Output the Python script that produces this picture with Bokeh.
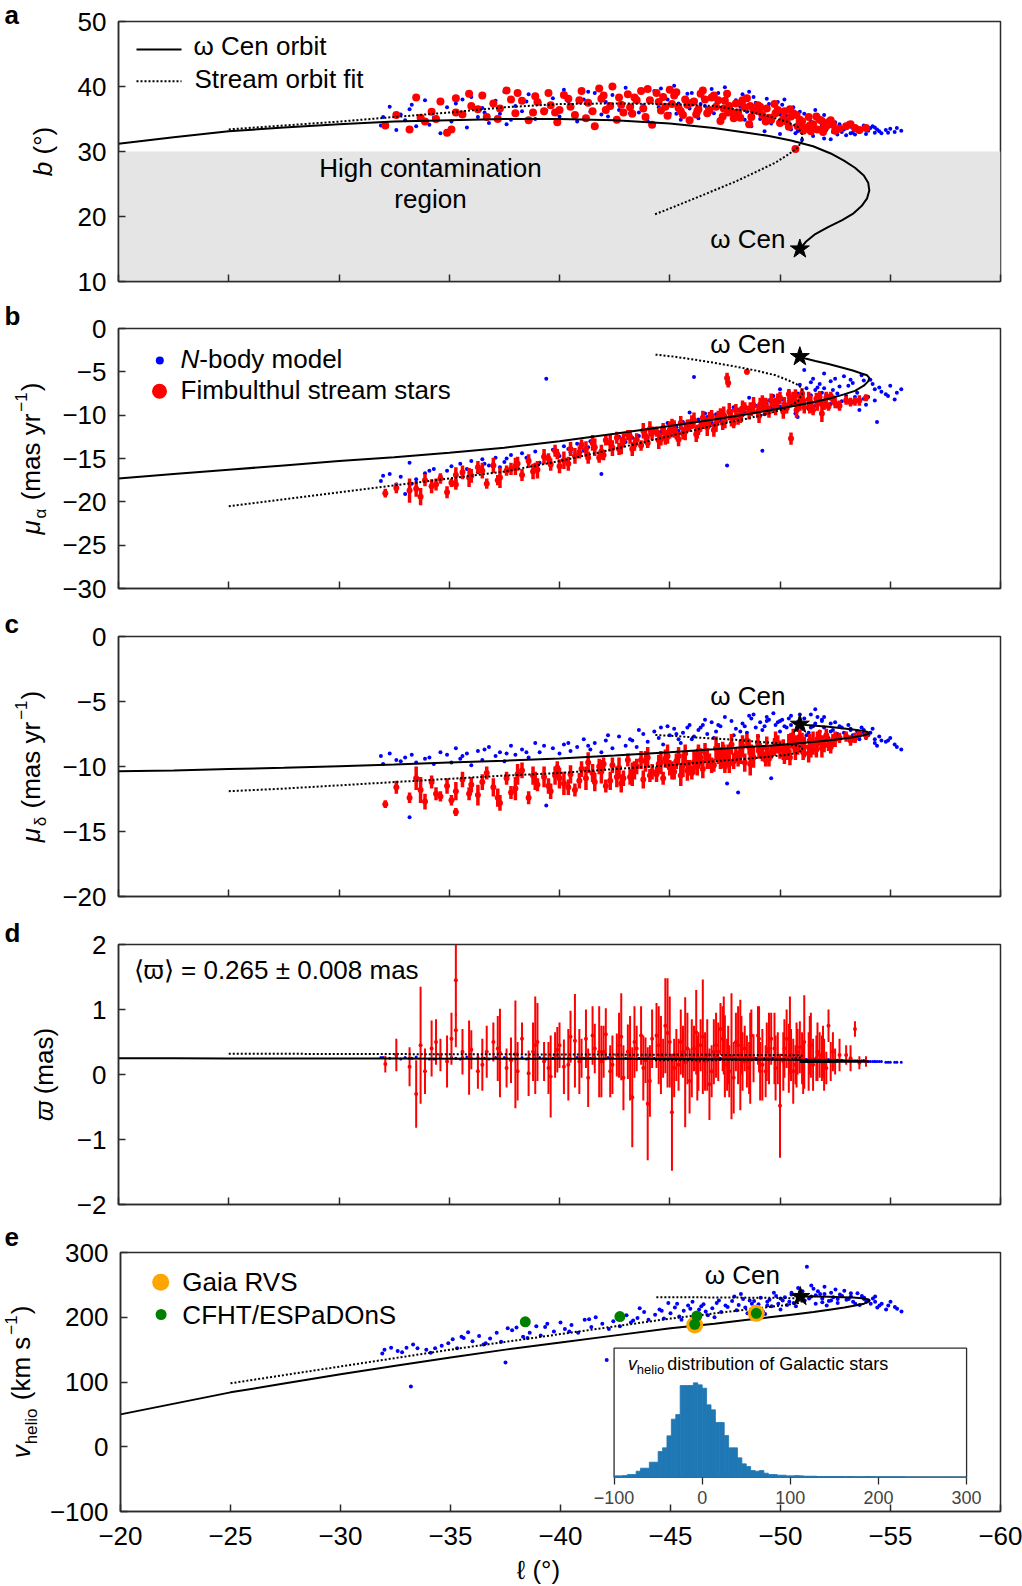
import math
import numpy as np
from bokeh.plotting import figure
from bokeh.models import Range1d, LinearAxis, FixedTicker, Label, BoxAnnotation, ColumnDataSource
from bokeh.layouts import column, row
from bokeh.embed import file_html
from bokeh.resources import INLINE

# ---------------------------------------------------------------- data
x_ticks = [-20, -25, -30, -35, -40, -45, -50, -55, -60]
x_tick_labels = ["\u221220", "\u221225", "\u221230", "\u221235", "\u221240", "\u221245", "\u221250", "\u221255", "\u221260"]
b_ticks = [10, 20, 30, 40, 50]
b_tick_labels = ["10", "20", "30", "40", "50"]
pmra_ticks = [0, -5, -10, -15, -20, -25, -30]
pmra_tick_labels = ["0", "\u22125", "\u221210", "\u221215", "\u221220", "\u221225", "\u221230"]
pmdec_ticks = [0, -5, -10, -15, -20]
pmdec_tick_labels = ["0", "\u22125", "\u221210", "\u221215", "\u221220"]
plx_ticks = [2, 1, 0, -1, -2]
plx_tick_labels = ["2", "1", "0", "\u22121", "\u22122"]
v_ticks = [300, 200, 100, 0, -100]
v_tick_labels = ["300", "200", "100", "0", "\u2212100"]
inset_ticks = [-100, 0, 100, 200, 300]
inset_tick_labels = ["\u2212100", "0", "100", "200", "300"]

# omega Cen orbit (solid line), sampled along the orbit
orbit_l = [-20, -22.5, -25, -27.5, -30, -32.5, -35, -37.5, -40, -42.5, -45, -47, -48.5, -49.5, -50.5,
           -51.5, -52.3, -52.9, -53.4, -53.8, -54.0, -54.05, -53.95, -53.7, -53.3, -52.8, -52.2, -51.6, -51.2, -50.9]
orbit_b = [31.2, 32.2, 33.1, 33.7, 34.2, 34.6, 34.8, 35.0, 35.0, 34.8, 34.3, 33.6, 32.9, 32.4, 31.7,
           30.8, 29.7, 28.6, 27.5, 26.3, 25.2, 24.0, 22.8, 21.6, 20.4, 19.4, 18.4, 17.3, 16.2, 15.0]
orbit_pmra = [-17.3, -16.8, -16.3, -15.8, -15.3, -14.85, -14.35, -13.75, -13.0, -12.15, -11.25, -10.5, -9.9, -9.45, -9.0,
              -8.5, -8.05, -7.6, -7.2, -6.6, -6.1, -5.7, -5.4, -5.2, -4.85, -4.5, -4.1, -3.75, -3.5, -3.25]
orbit_pmdec = [-10.37, -10.3, -10.2, -10.1, -9.98, -9.85, -9.7, -9.55, -9.38, -9.15, -8.9, -8.68, -8.5, -8.4, -8.27,
               -8.12, -7.98, -7.85, -7.73, -7.6, -7.5, -7.42, -7.33, -7.24, -7.15, -7.05, -6.95, -6.86, -6.8, -6.75]
orbit_plx = [0.250, 0.249, 0.248, 0.247, 0.246, 0.245, 0.244, 0.243, 0.242, 0.241, 0.239, 0.236, 0.232, 0.229, 0.225,
             0.221, 0.217, 0.213, 0.209, 0.205, 0.202, 0.200, 0.199, 0.197, 0.196, 0.195, 0.194, 0.193, 0.192, 0.191]
orbit_v = [50, 67, 84, 98, 112, 125, 138, 150, 161, 172, 183, 190, 196, 200, 204,
           208, 212, 215, 218, 221, 224, 226, 228, 229.5, 230.5, 231, 231.5, 232, 232, 232]

# stream orbit fit (dotted line)
fit_l = [-25, -27.5, -30, -32.5, -35, -37.5, -40, -42.5, -45, -47, -48.5, -49.5, -50.3, -50.8, -51.0,
         -51.0, -50.8, -50.4, -49.8, -49.0, -48.0, -47.0, -46.0, -45.2, -44.3]
fit_b = [33.4, 34.0, 34.6, 35.3, 36.0, 36.8, 37.3, 37.4, 37.3, 37.0, 36.2, 35.4, 34.6, 33.8, 32.6,
         31.6, 30.6, 29.6, 28.3, 27.0, 25.4, 24.0, 22.6, 21.5, 20.3]
fit_pmra = [-20.5, -19.7, -18.9, -18.1, -17.3, -16.5, -15.3, -13.9, -12.4, -11.2, -10.4, -9.8, -9.2, -8.4, -7.6,
            -6.9, -6.5, -6.0, -5.4, -4.9, -4.4, -3.95, -3.55, -3.25, -3.0]
fit_pmdec = [-11.9, -11.7, -11.45, -11.2, -10.95, -10.7, -10.5, -10.2, -9.9, -9.6, -9.4, -9.25, -9.1, -8.95, -8.75,
             -8.5, -8.4, -8.3, -8.2, -8.1, -7.95, -7.85, -7.75, -7.65, -7.57]
fit_plx = [0.32, 0.318, 0.316, 0.314, 0.312, 0.31, 0.308, 0.306, 0.304, 0.302, 0.3, 0.299, 0.298, 0.296, 0.29,
           0.27, 0.25, 0.235, 0.228, 0.224, 0.222, 0.221, 0.22, 0.22, 0.22]
fit_v = [98, 111, 124, 137, 150, 162, 174, 186, 198, 206, 212, 216, 219, 222, 225,
         227.5, 229, 229.5, 230, 230, 230.5, 230.5, 231, 231, 231]

# omega Cen itself
omega_l = [-50.9]
omega_b = [15.0]
omega_pmra = [-3.25]
omega_pmdec = [-6.75]
omega_v = [232]

# Fimbulthul stream stars (red)
red_l = [-32.1, -32.6, -33.2, -33.5, -33.7, -33.9, -34.2, -34.6, -34.9, -35.1,
         -35.3, -35.3, -35.6, -35.9, -36.3, -36.7, -37.0, -37.3, -37.6, -38.0,
         -38.3, -38.6, -38.9, -39.3, -39.6, -39.9, -40.2, -40.5, -40.7, -41.0,
         -41.3, -41.6, -41.9, -42.1, -42.4, -42.6, -42.8, -43.1, -43.3, -43.5,
         -43.8, -44.0, -44.2, -44.5, -44.7, -44.9, -45.1, -45.3, -45.5, -45.7,
         -45.9, -46.1, -46.3, -46.5, -46.7, -46.9, -47.1, -47.3, -47.5, -47.6,
         -47.8, -48.0, -48.2, -48.4, -48.5, -48.6, -48.8, -49.0, -49.2, -49.4,
         -49.6, -49.8, -50.0, -50.2, -50.4, -50.5, -50.7, -50.9, -51.1, -51.3,
         -51.5, -51.7, -51.9, -52.1, -52.2, -52.5, -53.0, -53.4, -53.6, -53.9,
         -36.0, -37.8, -38.8, -39.5, -40.0, -40.9, -41.5, -42.0, -42.9, -43.4,
         -43.9, -44.4, -44.8, -45.2, -45.6, -46.0, -46.4, -46.8, -47.2, -47.4,
         -47.7, -48.1, -48.3, -48.7, -49.1, -49.5, -49.9, -50.3, -50.6, -50.8,
         -51.0, -51.4, -51.8, -52.0, -52.4,
         -34.4, -36.5, -37.2, -38.1, -39.0, -39.8, -40.4, -41.2, -41.8, -42.3,
         -42.7, -43.2, -43.7, -44.1, -44.6, -45.0, -45.4, -45.8, -46.2, -46.6,
         -47.0, -47.45, -47.9, -48.25, -48.65, -49.05, -49.35, -49.75, -50.15, -50.45,
         -50.75, -51.05, -51.35, -51.65, -51.95, -52.3, -52.7, -53.2, -47.65, -46.25]
red_b = [34.0, 35.6, 33.4, 38.3, 35.2, 34.6, 36.1, 37.7, 32.9, 33.4,
         38.2, 36.0, 35.7, 38.9, 36.5, 35.3, 37.4, 36.6, 39.4, 35.9,
         37.8, 34.8, 38.5, 36.2, 37.1, 34.5, 38.7, 36.9, 35.6, 39.3,
         37.5, 33.9, 38.1, 36.4, 40.0, 34.9, 37.2, 38.8, 35.8, 37.9,
         36.6, 39.6, 34.1, 37.6, 38.4, 35.5, 37.3, 39.1, 36.2, 38.0,
         34.8, 37.7, 36.5, 39.4, 35.9, 38.3, 36.9, 34.7, 37.8, 38.9,
         36.1, 37.4, 35.2, 36.8, 38.2, 34.2, 36.3, 37.1, 35.6, 36.6,
         34.9, 35.9, 34.4, 36.2, 33.8, 35.4, 30.4, 34.9, 33.6, 35.3,
         34.2, 33.4, 34.7, 33.9, 34.5, 33.2, 33.9, 33.6, 33.3, 33.6,
         37.0, 38.0, 36.0, 39.0, 36.4, 37.9, 36.2, 38.6, 36.0, 38.3,
         35.3, 39.0, 36.9, 38.6, 35.6, 37.5, 38.9, 36.4, 37.9, 35.4,
         37.0, 36.0, 37.9, 35.3, 36.9, 35.2, 36.4, 34.6, 35.9, 33.9,
         34.6, 33.1, 34.9, 33.6, 34.1,
         35.0, 38.6, 35.0, 39.0, 37.6, 36.0, 38.1, 35.1, 39.7, 37.0,
         38.3, 36.8, 39.3, 37.9, 36.3, 39.5, 36.7, 37.2, 35.7, 38.0,
         38.6, 36.6, 35.1, 37.5, 37.0, 36.2, 34.6, 37.3, 35.0, 36.5,
         35.6, 33.2, 34.0, 35.4, 33.0, 34.8, 33.5, 34.2, 36.0, 36.2]
red_pmra = [-19.0, -18.4, -18.7, -18.5, -19.4, -17.5, -18.2, -17.3, -18.9, -17.8,
            -16.9, -18.0, -16.6, -17.2, -16.0, -17.9, -15.8, -17.2, -16.4, -15.9,
            -16.9, -15.3, -16.0, -14.8, -15.7, -14.5, -15.2, -13.9, -14.7, -13.4,
            -14.9, -13.7, -14.2, -12.9, -13.8, -12.6, -13.5, -12.3, -13.9, -12.8,
            -11.8, -13.2, -12.1, -12.9, -11.6, -12.5, -11.3, -12.2, -10.9, -11.9,
            -11.2, -10.6, -11.7, -10.3, -11.4, -10.1, -11.0, -9.8, -10.7, -5.7,
            -10.3, -9.4, -10.0, -9.1, -5.0, -9.7, -8.9, -9.6, -8.6, -9.3,
            -8.3, -9.0, -8.0, -8.8, -7.6, -12.7, -7.8, -8.5, -9.1, -8.2,
            -9.4, -8.7, -9.8, -8.0, -9.0, -8.6, -8.3, -8.4, -8.3, -8.0,
            -17.0, -16.2, -16.5, -15.0, -15.9, -14.3, -13.2, -14.6, -12.9, -13.4,
            -12.4, -11.9, -12.6, -11.6, -12.1, -10.8, -11.3, -10.5, -10.2, -10.9,
            -9.6, -10.4, -9.2, -9.5, -8.8, -9.6, -8.4, -9.2, -8.1, -8.9,
            -7.5, -8.6, -7.9, -8.8, -8.2,
            -18.0, -16.4, -17.5, -15.6, -16.3, -14.1, -15.6, -13.9, -14.9, -13.2,
            -13.9, -12.5, -13.5, -11.6, -12.8, -11.7, -12.8, -11.1, -12.2, -10.9,
            -11.7, -10.0, -10.9, -9.9, -9.2, -10.1, -9.0, -8.9, -9.6, -8.4,
            -9.4, -8.3, -9.0, -8.1, -8.8, -7.8, -8.9, -8.5, -6.3, -11.9]
red_pmra_err = [0.5, 0.6, 1.4, 0.9, 1.0, 0.7, 0.8, 0.6, 0.7, 0.5,
                0.9, 0.6, 0.8, 1.1, 0.7, 0.6, 0.9, 1.2, 0.6, 1.0,
                0.7, 0.8, 0.5, 0.9, 0.7, 0.6, 1.0, 0.8, 0.9, 0.6,
                0.7, 1.0, 0.8, 0.6, 0.9, 0.7, 1.0, 0.6, 0.8, 0.7,
                0.9, 0.6, 0.8, 1.0, 0.7, 0.8, 0.9, 0.6, 0.8, 1.0,
                0.7, 0.9, 0.6, 0.8, 1.0, 0.7, 0.9, 0.6, 0.8, 0.6,
                1.0, 0.7, 0.9, 0.6, 0.3, 0.8, 1.0, 0.7, 0.9, 0.6,
                0.8, 1.0, 0.7, 0.9, 0.6, 0.7, 0.8, 1.0, 0.7, 0.9,
                0.6, 0.8, 1.0, 0.7, 0.5, 0.6, 0.5, 0.5, 0.6, 0.4,
                0.8, 0.7, 0.9, 0.6, 0.8, 0.7, 0.9, 0.6, 0.8, 0.7,
                0.9, 0.6, 0.8, 1.0, 0.7, 0.8, 0.6, 0.9, 0.7, 0.8,
                1.0, 0.7, 0.9, 0.6, 0.8, 0.7, 0.9, 0.6, 0.8, 0.7,
                0.6, 0.9, 0.7, 0.6, 0.5,
                0.7, 0.9, 0.6, 0.8, 1.0, 0.7, 0.8, 0.9, 0.6, 1.0,
                0.7, 0.8, 0.6, 0.9, 0.7, 1.0, 0.8, 0.6, 0.9, 0.7,
                0.8, 1.0, 0.6, 0.9, 0.7, 0.8, 1.0, 0.6, 0.8, 0.7,
                0.9, 0.6, 0.8, 0.7, 0.6, 0.5, 0.6, 0.5, 0.5, 0.8]
red_pmdec = [-12.9, -11.6, -12.4, -10.9, -11.8, -12.7, -11.2, -12.3, -11.5, -12.6,
             -13.5, -11.9, -11.0, -12.1, -12.2, -10.5, -11.6, -12.8, -10.9, -11.7,
             -10.3, -12.4, -11.1, -10.8, -11.9, -10.1, -11.3, -10.6, -11.8, -10.2,
             -9.7, -11.2, -10.4, -11.5, -9.9, -10.8, -11.3, -9.5, -10.6, -10.0,
             -11.0, -9.3, -10.4, -9.8, -10.9, -9.2, -10.3, -9.6, -10.7, -9.0,
             -10.1, -9.7, -8.8, -10.2, -9.4, -9.9, -8.6, -9.5, -10.0, -9.2,
             -8.3, -9.1, -8.9, -9.7, -8.0, -8.5, -9.3, -8.2, -9.0, -8.6,
             -8.9, -8.1, -8.7, -9.2, -8.4, -8.0, -8.8, -7.7, -8.5, -9.0,
             -8.2, -7.9, -8.6, -7.6, -8.3, -7.9, -7.7, -7.8, -7.5, -7.6,
             -11.4, -12.0, -10.7, -11.5, -10.9, -11.1, -10.5, -9.8, -10.9, -10.3,
             -9.6, -10.6, -9.4, -10.4, -9.9, -10.5, -9.3, -9.6, -9.0, -8.7,
             -9.8, -9.4, -8.4, -9.0, -8.7, -9.4, -8.3, -8.9, -7.9, -8.6,
             -8.1, -8.7, -7.8, -8.4, -8.0,
             -12.1, -11.2, -12.4, -10.6, -11.4, -10.7, -11.6, -10.9, -10.0, -11.1,
             -10.1, -10.8, -9.5, -10.7, -9.7, -10.1, -9.2, -10.3, -9.5, -8.9,
             -9.9, -9.1, -9.6, -8.6, -9.8, -8.8, -9.5, -8.5, -8.7, -9.3,
             -8.3, -8.9, -8.0, -8.7, -8.1, -8.5, -7.8, -8.0, -8.9, -10.0]
red_pmdec_err = [0.3, 0.5, 0.4, 0.9, 1.0, 0.6, 0.5, 0.4, 0.6, 0.4,
                 0.3, 0.7, 0.6, 0.5, 0.8, 0.5, 0.7, 0.6, 0.5, 0.9,
                 0.6, 0.5, 0.7, 0.8, 0.6, 0.5, 0.9, 0.7, 0.5, 0.6,
                 0.8, 0.7, 0.9, 0.5, 0.6, 0.8, 0.7, 0.5, 0.9, 0.6,
                 0.7, 0.8, 0.6, 0.7, 0.5, 0.9, 0.7, 0.6, 0.8, 0.7,
                 0.6, 0.9, 0.5, 0.7, 0.8, 0.6, 0.9, 0.7, 0.5, 0.6,
                 0.8, 0.6, 0.9, 0.7, 0.5, 0.6, 0.8, 0.7, 0.6, 0.9,
                 0.5, 0.8, 0.7, 0.6, 0.9, 0.6, 0.7, 0.5, 0.8, 0.7,
                 0.9, 0.6, 0.7, 0.5, 0.5, 0.6, 0.4, 0.4, 0.3, 0.3,
                 0.6, 0.5, 0.7, 0.6, 0.8, 0.6, 0.7, 0.5, 0.6, 0.7,
                 0.8, 0.6, 0.7, 0.6, 0.9, 0.5, 0.7, 0.6, 0.8, 0.6,
                 0.7, 0.6, 0.8, 0.7, 0.5, 0.6, 0.7, 0.6, 0.8, 0.5,
                 0.7, 0.6, 0.6, 0.5, 0.5,
                 0.5, 0.6, 0.7, 0.8, 0.5, 0.7, 0.6, 0.9, 0.6, 0.7,
                 0.8, 0.6, 0.7, 0.5, 0.9, 0.6, 0.7, 0.8, 0.6, 0.7,
                 0.5, 0.8, 0.6, 0.7, 0.9, 0.6, 0.5, 0.7, 0.8, 0.6,
                 0.7, 0.6, 0.5, 0.6, 0.5, 0.5, 0.4, 0.4, 0.6, 0.7]
red_plx = [0.16, 0.30, 0.12, -0.30, 0.45, 0.05, 0.40, 0.30, 0.20, 0.55,
           1.45, 0.68, 0.35, 0.26, 0.05, 0.35, 0.50, 0.33, 0.10, 0.31,
           0.55, 0.02, 0.45, 0.20, -0.03, 0.38, 0.12, 0.58, 0.52, 0.25,
           -0.05, 0.40, 0.20, 0.62, 0.15, 0.30, 0.58, 0.35, -0.35, 0.40,
           0.10, -0.45, 0.55, 0.45, 0.25, 0.64, -0.58, 0.30, 0.50, 0.19,
           -0.10, 0.40, 0.20, 0.58, 0.30, 0.05, 0.45, 0.70, 0.28, 0.15,
           0.28, 0.50, 0.30, 0.40, 0.20, 0.10, 0.25, 0.60, 0.15, 0.35,
           0.55, 0.10, -0.48, 0.40, 0.25, 0.30, 0.15, 0.42, 0.50, 0.20,
           0.15, 0.35, 0.25, 0.10, 0.75, 0.20, 0.30, 0.70, 0.18, 0.20,
           0.38, 0.22, 0.35, 0.10, 0.45, 0.20, 0.60, 0.35, -0.05, 0.50,
           0.22, 0.60, 0.75, 0.10, 0.35, 0.25, 0.45, -0.15, 0.35, 0.55,
           0.05, 0.45, 0.20, 0.60, 0.05, 0.40, 0.25, 0.55, 0.05, 0.35,
           0.25, 0.45, 0.30, 0.15, 0.35,
           0.50, 0.15, 0.40, 0.05, 0.50, 0.30, 0.15, 0.55, 0.35, 0.05,
           0.45, 0.25, 0.60, -0.10, 0.30, 0.50, 0.15, 0.40, 0.65, 0.20,
           0.35, 0.60, -0.05, 0.45, 0.25, 0.55, 0.05, 0.40, 0.20, 0.60,
           0.30, 0.10, 0.45, 0.25, 0.35, 0.20, 0.30, 0.25, 0.30, 0.10]
red_plx_err = [0.13, 0.25, 0.30, 0.52, 0.90, 0.35, 0.43, 0.25, 0.40, 0.40,
               0.55, 0.26, 0.35, 0.57, 0.27, 0.40, 0.30, 0.68, 0.30, 0.83,
               0.25, 0.35, 0.75, 0.30, 0.63, 0.35, 0.42, 0.40, 0.72, 0.30,
               0.45, 0.38, 0.55, 0.40, 0.45, 0.33, 0.67, 0.42, 0.77, 0.35,
               0.50, 0.87, 0.45, 0.60, 0.30, 0.84, 0.90, 0.40, 0.50, 1.00,
               0.50, 0.35, 0.45, 0.88, 0.55, 0.40, 0.50, 0.40, 0.63, 0.40,
               0.97, 0.45, 0.85, 0.35, 0.40, 0.40, 0.37, 0.45, 0.55, 0.45,
               0.40, 0.50, 0.80, 0.45, 0.53, 0.40, 0.30, 0.40, 0.72, 0.45,
               0.40, 0.45, 0.35, 0.25, 0.25, 0.20, 0.15, 0.12, 0.10, 0.08,
               0.30, 0.35, 0.45, 0.40, 0.35, 0.50, 0.45, 0.40, 0.50, 0.55,
               0.35, 0.50, 0.73, 0.45, 0.40, 0.60, 0.40, 0.55, 0.45, 0.50,
               0.40, 0.60, 0.45, 0.40, 0.45, 0.55, 0.40, 0.45, 0.50, 0.35,
               0.40, 0.50, 0.35, 0.40, 0.30,
               0.35, 0.40, 0.50, 0.45, 0.60, 0.35, 0.55, 0.45, 0.70, 0.40,
               0.50, 0.65, 0.45, 0.55, 0.60, 0.70, 0.40, 0.55, 0.65, 0.45,
               0.50, 0.60, 0.55, 0.45, 0.70, 0.50, 0.40, 0.55, 0.45, 0.60,
               0.50, 0.40, 0.45, 0.35, 0.40, 0.30, 0.25, 0.20, 0.45, 0.50]

# N-body model particles (blue)
blue_l = [-31.9, -32.3, -32.6, -32.8, -33.0, -33.2, -33.5, -33.9, -34.3, -34.6,
          -34.9, -35.1, -35.3, -35.5, -35.8, -36.0, -36.3, -36.5, -36.8, -37.1,
          -37.3, -37.5, -37.8, -38.0, -38.3, -38.6, -38.9, -39.1, -39.4, -39.7,
          -40.0, -40.2, -40.5, -40.8, -41.1, -41.4, -41.6, -41.9, -42.1, -42.4,
          -42.7, -43.0, -43.2, -43.5, -43.8, -44.0, -44.3, -44.5, -44.7, -45.0,
          -45.2, -45.4, -45.6, -45.8, -46.1, -46.3, -46.5, -46.7, -46.9, -47.1,
          -47.3, -47.6, -47.8, -48.0, -48.1, -48.3, -48.5, -48.7, -48.9, -49.1,
          -49.2, -49.4, -49.6, -49.8, -50.0, -50.1, -50.3, -50.5, -50.6, -50.8,
          -51.0, -51.1, -51.2, -51.4, -51.5, -51.6, -51.8, -51.9, -52.0, -52.2,
          -52.3, -52.4, -52.6, -52.7, -52.9, -53.0, -53.2, -53.3, -53.5, -53.6,
          -53.8, -54.0, -54.1, -54.3, -54.4, -54.5, -54.8, -55.2, -55.5,
          -43.6, -44.9, -45.5, -46.0, -46.6, -47.0, -47.5, -47.9, -48.4, -48.8,
          -49.0, -49.5, -49.7, -50.2, -50.4, -50.7, -50.9, -51.3, -51.7, -52.1,
          -52.5, -52.8, -53.1, -53.4, -53.7, -53.9, -54.2, -54.6, -55.0, -51.6,
          -52.3, -50.0, -49.3, -48.6, -45.9,
          -32.0, -33.3, -34.1, -35.6, -36.6, -37.6, -38.5, -39.3, -40.4, -41.3,
          -42.2, -43.3, -44.6, -45.3, -46.4, -47.2, -48.2, -49.4, -50.5, -51.4,
          -51.9, -52.6, -53.2, -53.8, -54.3, -54.9, -55.3, -52.0, -50.8, -49.9]
blue_b = [34.0, 36.9, 33.3, 35.7, 34.8, 36.5, 33.9, 37.9, 35.2, 32.8,
          36.8, 34.6, 37.4, 35.9, 33.7, 38.4, 35.3, 36.7, 34.4, 37.8,
          35.8, 39.2, 34.9, 37.0, 36.2, 38.8, 35.0, 37.5, 36.3, 38.2,
          35.4, 39.5, 36.9, 34.6, 38.0, 36.1, 39.0, 35.7, 37.6, 38.7,
          36.4, 39.8, 35.9, 38.3, 37.1, 34.7, 39.3, 36.8, 38.6, 35.8,
          40.1, 37.4, 36.0, 38.9, 37.7, 35.1, 38.2, 36.6, 39.6, 37.3,
          34.5, 38.5, 36.3, 37.9, 35.6, 38.8, 36.1, 33.9, 37.5, 35.0,
          36.7, 38.1, 34.3, 36.4, 32.7, 37.2, 35.5, 33.4, 36.8, 34.7,
          31.8, 35.8, 33.9, 34.6, 32.4, 35.2, 33.5, 34.3, 32.0, 33.9,
          34.8, 33.0, 32.6, 34.2, 33.4, 32.5, 33.8, 32.9, 33.5, 33.0,
          33.8, 33.2, 33.6, 32.9, 33.4, 33.1, 33.3, 33.0, 33.2,
          36.0, 38.0, 34.9, 39.0, 37.0, 35.9, 39.9, 37.2, 34.9, 38.4,
          36.0, 37.3, 35.7, 38.0, 34.0, 32.8, 36.1, 33.2, 34.9, 33.3,
          34.5, 33.0, 34.4, 32.6, 33.4, 32.7, 33.9, 32.8, 33.5, 36.4,
          31.9, 35.7, 33.1, 39.2, 36.6,
          35.3, 37.2, 34.1, 38.0, 36.0, 34.2, 37.7, 35.9, 37.7, 39.2,
          35.4, 37.0, 39.7, 35.8, 37.3, 39.0, 36.9, 34.6, 35.8, 33.0,
          34.0, 33.6, 32.8, 34.0, 33.7, 32.9, 33.6, 35.6, 33.1, 37.6]
blue_pmra = [-17.6, -16.8, -18.0, -17.1, -19.1, -15.5, -17.4, -16.7, -16.2, -17.0,
             -16.4, -15.9, -16.9, -15.6, -16.2, -15.3, -16.6, -15.1, -15.8, -14.9,
             -16.0, -15.4, -14.6, -15.7, -14.4, -15.1, -14.2, -15.5, -5.8, -14.0,
             -14.7, -13.6, -14.3, -13.3, -14.1, -13.0, -13.8, -16.8, -12.8, -13.5,
             -12.5, -13.1, -12.2, -12.9, -11.9, -12.6, -11.6, -12.3, -11.3, -12.0,
             -11.0, -11.8, -10.8, -11.5, -5.6, -10.5, -11.2, -10.2, -10.9, -9.9,
             -10.6, -15.8, -9.6, -10.3, -9.4, -10.0, -9.2, -9.8, -8.9, -9.5,
             -14.1, -8.7, -9.2, -8.4, -9.0, -8.2, -8.8, -7.9, -8.5, -7.5,
             -8.2, -4.8, -6.9, -7.7, -5.8, -8.9, -6.4, -7.4, -5.2, -8.0,
             -6.1, -7.1, -9.0, -6.7, -5.5, -7.8, -8.6, -6.3, -7.4, -9.4,
             -6.0, -7.9, -5.9, -8.3, -10.8, -6.8, -7.6, -8.2, -7.0,
             -12.4, -10.9, -11.4, -10.7, -9.8, -11.1, -10.1, -9.1, -9.6, -8.6,
             -10.1, -8.3, -7.8, -9.4, -7.2, -9.8, -6.5, -9.3, -6.8, -7.6,
             -5.8, -8.4, -6.6, -7.9, -5.4, -8.8, -6.4, -7.3, -6.6, -7.1,
             -8.7, -7.0, -9.9, -8.0, -9.7,
             -17.0, -17.9, -16.4, -16.8, -15.6, -15.0, -14.9, -14.6, -13.9, -13.7,
             -13.2, -12.6, -11.9, -11.4, -10.9, -10.4, -9.9, -9.1, -8.2, -6.2,
             -8.6, -7.5, -5.9, -8.1, -7.0, -7.8, -7.4, -6.9, -10.2, -8.0]
blue_pmdec = [-9.2, -9.0, -9.5, -9.6, -9.3, -13.9, -9.7, -9.4, -9.8, -8.9,
              -9.1, -9.7, -8.6, -9.4, -9.0, -9.9, -8.8, -9.5, -8.5, -9.2,
              -8.9, -9.6, -8.4, -9.1, -8.7, -9.3, -8.2, -8.9, -13.0, -8.6,
              -9.0, -8.3, -8.8, -8.5, -7.9, -8.7, -8.2, -8.9, -8.0, -8.6,
              -7.7, -8.4, -7.9, -8.5, -7.5, -8.1, -7.3, -7.8, -8.3, -7.6,
              -7.1, -7.9, -7.4, -7.0, -7.7, -7.2, -6.8, -7.5, -6.6, -7.3,
              -6.9, -11.3, -6.5, -7.1, -12.0, -6.7, -7.4, -6.3, -7.0, -6.6,
              -7.2, -6.2, -10.9, -6.8, -7.3, -6.4, -7.0, -6.1, -7.5, -6.6,
              -7.1, -6.3, -7.6, -6.0, -6.9, -5.6, -7.3, -6.5, -7.0, -7.8,
              -6.7, -7.2, -7.5, -6.9, -7.4, -7.7, -7.1, -7.6, -7.3, -7.9,
              -7.2, -7.6, -7.4, -7.9, -8.4, -7.7, -8.1, -8.3, -8.7,
              -7.2, -6.9, -8.2, -7.9, -6.4, -7.8, -6.2, -7.6, -6.9, -6.0,
              -7.7, -6.4, -5.9, -6.9, -6.3, -7.8, -6.0, -7.4, -6.2, -7.9,
              -6.6, -7.0, -6.8, -8.0, -7.0, -7.8, -7.1, -8.0, -7.8, -6.7,
              -7.3, -6.5, -6.9, -6.1, -6.8,
              -9.8, -9.1, -9.3, -9.2, -8.7, -9.0, -8.9, -8.4, -8.2, -8.4,
              -7.6, -8.0, -7.0, -7.5, -7.0, -6.8, -7.3, -6.5, -6.8, -7.0,
              -6.4, -7.8, -7.2, -7.4, -8.2, -8.0, -8.5, -6.2, -7.2, -6.6]
blue_plx = [0.26, 0.25, 0.27, 0.24, 0.26, 0.25, 0.27, 0.25, 0.24, 0.26,
            0.25, 0.26, 0.25, 0.24, 0.27, 0.25, 0.26, 0.25, 0.24, 0.26,
            0.25, 0.26, 0.25, 0.24, 0.26, 0.25, 0.25, 0.26, 0.24, 0.25,
            0.26, 0.25, 0.24, 0.26, 0.25, 0.25, 0.26, 0.24, 0.25, 0.26,
            0.25, 0.25, 0.26, 0.24, 0.25, 0.26, 0.25, 0.25, 0.24, 0.26,
            0.25, 0.25, 0.26, 0.24, 0.25, 0.26, 0.25, 0.25, 0.24, 0.26,
            0.25, 0.25, 0.26, 0.25, 0.24, 0.25, 0.26, 0.25, 0.25, 0.26,
            0.24, 0.25, 0.26, 0.25, 0.25, 0.24, 0.26, 0.25, 0.25, 0.24,
            0.25, 0.24, 0.23, 0.24, 0.23, 0.24, 0.23, 0.23, 0.22, 0.23,
            0.22, 0.23, 0.22, 0.22, 0.21, 0.22, 0.21, 0.21, 0.21, 0.20,
            0.21, 0.20, 0.20, 0.20, 0.20, 0.20, 0.19, 0.19, 0.19,
            0.25, 0.25, 0.26, 0.25, 0.25, 0.26, 0.24, 0.25, 0.26, 0.25,
            0.25, 0.24, 0.25, 0.25, 0.24, 0.25, 0.24, 0.23, 0.23, 0.23,
            0.22, 0.22, 0.21, 0.21, 0.21, 0.20, 0.20, 0.20, 0.19, 0.23,
            0.22, 0.24, 0.25, 0.25, 0.25,
            0.26, 0.25, 0.24, 0.26, 0.25, 0.25, 0.24, 0.26, 0.25, 0.25,
            0.26, 0.25, 0.24, 0.25, 0.25, 0.26, 0.25, 0.24, 0.24, 0.23,
            0.23, 0.22, 0.21, 0.21, 0.20, 0.19, 0.19, 0.22, 0.24, 0.25]
blue_v = [144, 153, 148, 146, 153, 93, 152, 150, 152, 156,
          160, 166, 152, 170, 177, 163, 171, 158, 167, 176,
          162, 130, 180, 184, 170, 176, 186, 172, 190, 178,
          192, 182, 188, 176, 196, 185, 200, 190, 134, 194,
          186, 203, 192, 199, 208, 196, 204, 212, 198, 206,
          215, 201, 210, 218, 205, 212, 220, 203, 214, 222,
          208, 216, 225, 211, 219, 228, 206, 221, 214, 230,
          209, 224, 217, 233, 212, 226, 219, 235, 222, 228,
          240, 226, 278, 232, 244, 221, 236, 229, 247, 225,
          238, 231, 222, 235, 241, 227, 232, 224, 237, 219,
          230, 226, 221, 224, 215, 218, 212, 216, 209,
          214, 222, 196, 224, 209, 200, 218, 232, 215, 225,
          220, 227, 238, 231, 224, 217, 233, 229, 240, 218,
          243, 233, 228, 221, 233, 224, 229, 221, 224, 234,
          226, 229, 205, 226, 213,
          150, 158, 145, 168, 160, 183, 168, 185, 178, 197,
          182, 195, 210, 221, 217, 226, 236, 218, 238, 249,
          223, 228, 237, 228, 232, 218, 213, 236, 245, 221]

# radial velocities
rvs_l = [-46.1, -48.9]
rvs_v = [188, 206]
cfht_l = [-38.4, -42.7, -46.2, -46.1, -48.9]
cfht_v = [193, 201, 202, 189, 206]

# inset histogram of v_helio of Galactic stars (5 km/s bins starting at -100)
hist_start = -100
hist_bin = 5
hist_counts = [4, 4, 5, 8, 8, 18, 27, 27, 45, 45, 77, 88, 124, 174, 188, 275, 275, 275, 283, 277,
               267, 217, 202, 164, 164, 125, 88, 88, 58, 40, 32, 20, 18, 20, 12, 8, 8, 6, 6, 4,
               4, 5, 4, 3, 3, 3, 2, 2, 2, 2, 2, 2, 1, 2, 1, 1, 1, 2, 1, 1,
               1, 1, 1, 1, 1, 1, 0, 0, 0, 0, 0, 0, 0, 0, 0, 0, 0, 0, 0, 0]
inset_top = 387

# ---------------------------------------------------------------- style / layout
FONT = "Liberation Sans"
EDGE = "#2b2b2b"
FL, FW, FRR = 118, 882, 22
X0, X1 = -20, -60
BLUE, RED, ORANGE, GREEN = "#0000ff", "#ff0000", "#ffa500", "#008000"
MID = 0.35   # distance from baseline to the middle of the text box, in em

CW = {' ': 0.278, '(': 0.333, ')': 0.333, 'm': 0.833, 'a': 0.556, 's': 0.5, 'y': 0.5, 'r': 0.333,
      'k': 0.5, 'h': 0.556, 'e': 0.556, 'l': 0.222, 'i': 0.222, 'o': 0.556, 'v': 0.5, 'b': 0.556,
      '\u00b0': 0.4, '\u2212': 0.584, '1': 0.556, '\u03bc': 0.576, '\u03b1': 0.58, '\u03b4': 0.556,
      '\u03d6': 0.75}


def tw(s, size):
    return sum(CW.get(c, 0.556) for c in s) * size


def make_conv(top, fh, y0, y1):
    def conv(px, py):
        return (X0 + (px - FL) * (X1 - X0) / FW, y1 - (py - top) * (y1 - y0) / fh)
    return conv


def ident(px, py):
    return px, py


def make_fig(width, height, bleft, btop, bbot, y0, y1, yticks, ylabels, show_x):
    p = figure(width=width, height=height, x_range=Range1d(X0, X1), y_range=Range1d(y0, y1),
               output_backend="svg", toolbar_location=None, title=None, frame_align=False,
               min_border_left=bleft, min_border_right=FRR, min_border_top=btop, min_border_bottom=bbot)
    p.grid.visible = False
    p.outline_line_color = EDGE
    p.outline_line_width = 1.5
    p.background_fill_color = "white"
    p.border_fill_color = "white"
    for ax in list(p.xaxis) + list(p.yaxis):
        ax.axis_line_color = EDGE
        ax.axis_line_width = 1.5
        ax.major_tick_in = 7
        ax.major_tick_out = 0
        ax.major_tick_line_color = EDGE
        ax.major_tick_line_width = 1.5
        ax.minor_tick_line_color = None
        ax.major_label_text_font = FONT
        ax.major_label_text_font_size = "26px"
        ax.major_label_text_color = "black"
    xa = p.xaxis[0]
    xa.ticker = FixedTicker(ticks=x_ticks)
    if show_x:
        xa.major_label_overrides = dict(zip(x_ticks, x_tick_labels))
        xa.major_label_standoff = 15
    else:
        xa.major_label_text_font_size = "1px"
        xa.major_label_text_color = None
        xa.major_label_standoff = 0
    ya = p.yaxis[0]
    ya.ticker = FixedTicker(ticks=yticks)
    ya.major_label_overrides = dict(zip(yticks, ylabels))
    ya.major_label_standoff = 12
    return p


def blank_fig(width, height, left_abs, top_abs):
    # a bare frame in page pixels (x right, y down), used for margin texts
    p = figure(width=width, height=height, x_range=Range1d(left_abs, left_abs + width),
               y_range=Range1d(top_abs + height, top_abs), output_backend="svg", toolbar_location=None,
               title=None, frame_align=False, min_border=0, x_axis_location=None, y_axis_location=None)
    p.grid.visible = False
    p.outline_line_color = None
    p.background_fill_color = "white"
    p.border_fill_color = "white"
    return p


def txt(p, conv, px, py, s, size=26, style="normal", align="left"):
    # (px, py): page position of the text baseline start
    x, y = conv(px, py - MID * size)
    p.add_layout(Label(x=x, y=y, text=s, text_font=FONT, text_font_size=f"{size}px",
                       text_font_style=style, text_align=align, text_baseline="middle",
                       text_color="black"))


def vlabel(p, pieces, base_px, mid_py):
    # vertical (rotated) axis title built from pieces (text, size, style, baseline shift, gap before)
    total = sum(tw(t, fs) + g for t, fs, st, sh, g in pieces)
    py = mid_py + total / 2
    for t, fs, st, sh, g in pieces:
        core = t.lstrip(" ")
        py -= g + (len(t) - len(core)) * CW[" "] * fs
        p.add_layout(Label(x=base_px + sh - MID * fs, y=py, text=core, text_font=FONT,
                           text_font_size=f"{fs}px", text_font_style=st, text_align="left",
                           text_baseline="middle", text_color="black", angle=math.pi / 2))
        py -= tw(core, fs)


def lines(p, ycol_orbit, ycol_fit):
    p.line(orbit_l, ycol_orbit, line_color="black", line_width=2)
    p.line(fit_l, ycol_fit, line_color="black", line_width=2, line_dash="2 2")


def errbars(p, yvals, yerr, lw, msize):
    y = np.array(yvals, dtype=float)
    e = np.array(yerr, dtype=float)
    src = ColumnDataSource(dict(l=red_l, y=y, lo=y - e, hi=y + e))
    p.segment(x0="l", y0="lo", x1="l", y1="hi", source=src, line_color=RED, line_width=lw)
    p.scatter(x="l", y="y", source=src, size=msize, fill_color=RED, line_color=None)


WL = 59      # width of the left margin strip for panels a-d
WLE = 46     # for panel e

# ---------------------------------------------------------------- panel a  (page y 0..300)
pa = make_fig(1022 - WL, 300, FL - WL, 21, 19, 10, 50, b_ticks, b_tick_labels, False)
ca = make_conv(21, 260, 10, 50)
la = blank_fig(WL, 300, 0, 0)
pa.add_layout(BoxAnnotation(top=30, fill_color="#e5e5e5", fill_alpha=1.0, line_color=None, level="underlay"))
pa.scatter(blue_l, blue_b, size=4, fill_color=BLUE, line_color=None)
pa.scatter(red_l, red_b, size=8, fill_color=RED, line_color=None)
lines(pa, orbit_b, fit_b)
pa.scatter(omega_l, omega_b, marker="star", size=20, fill_color="black", line_color="black")
for py, dash in ((49, "solid"), (80.7, "2 2")):
    xa0, ya0 = ca(136, py)
    xa1, _ = ca(181, py)
    pa.line([xa0, xa1], [ya0, ya0], line_color="black", line_width=2, line_dash=dash)
txt(pa, ca, 193, 55, "\u03c9 Cen orbit")
txt(pa, ca, 194, 88, "Stream orbit fit")
txt(pa, ca, 430, 176.7, "High contamination", align="center")
txt(pa, ca, 430, 208, "region", align="center")
txt(pa, ca, 785, 248, "\u03c9 Cen", align="right")
txt(la, ident, 4, 23.8, "a", size=26, style="bold")
vlabel(la, [("b", 26, "italic", 0, 0), (" (\u00b0)", 26, "normal", 0, 0)], 52, 151)

# ---------------------------------------------------------------- panel b  (page y 300..607)
pb = make_fig(1022 - WL, 307, FL - WL, 28, 19, -30, 0, pmra_ticks, pmra_tick_labels, False)
cb = make_conv(328, 260, -30, 0)
lb = blank_fig(WL, 307, 0, 300)
pb.scatter(blue_l, blue_pmra, size=4, fill_color=BLUE, line_color=None)
errbars(pb, red_pmra, red_pmra_err, 3.5, 6)
lines(pb, orbit_pmra, fit_pmra)
pb.scatter(omega_l, omega_pmra, marker="star", size=20, fill_color="black", line_color="black")
x_, y_ = cb(159.3, 360)
pb.scatter([x_], [y_], size=8, fill_color=BLUE, line_color=None)
x_, y_ = cb(159, 390.7)
pb.scatter([x_], [y_], size=15, fill_color=RED, line_color=None)
txt(pb, cb, 180, 368, "N", style="italic")
txt(pb, cb, 198.8, 368, "-body model")
txt(pb, cb, 180, 399, "Fimbulthul stream stars")
txt(pb, cb, 785, 353, "\u03c9 Cen", align="right")
txt(lb, ident, 4, 325, "b", size=26, style="bold")
vlabel(lb, [("\u03bc", 26, "italic", 0, 0), ("\u03b1", 17, "normal", 6, 1), (" (mas yr", 26, "normal", 0, 1),
            ("\u22121", 17, "normal", -14, 2), (")", 26, "normal", 0, 1)], 40, 458)

# ---------------------------------------------------------------- panel c  (page y 607..915)
pc = make_fig(1022 - WL, 308, FL - WL, 29, 19, -20, 0, pmdec_ticks, pmdec_tick_labels, False)
cc = make_conv(636, 260, -20, 0)
lc = blank_fig(WL, 308, 0, 607)
pc.scatter(blue_l, blue_pmdec, size=4, fill_color=BLUE, line_color=None)
errbars(pc, red_pmdec, red_pmdec_err, 3.5, 6)
lines(pc, orbit_pmdec, fit_pmdec)
pc.scatter(omega_l, omega_pmdec, marker="star", size=20, fill_color="black", line_color="black")
txt(pc, cc, 785, 705, "\u03c9 Cen", align="right")
txt(lc, ident, 4, 633, "c", size=26, style="bold")
vlabel(lc, [("\u03bc", 26, "italic", 0, 0), ("\u03b4", 17, "normal", 6, 1), (" (mas yr", 26, "normal", 0, 1),
            ("\u22121", 17, "normal", -14, 2), (")", 26, "normal", 0, 1)], 40, 766)

# ---------------------------------------------------------------- panel d  (page y 915..1221)
pd_ = make_fig(1022 - WL, 306, FL - WL, 29, 17, -2, 2, plx_ticks, plx_tick_labels, False)
cd = make_conv(944, 260, -2, 2)
ld = blank_fig(WL, 306, 0, 915)
pd_.scatter(blue_l, blue_plx, size=3, fill_color=BLUE, line_color=None)
errbars(pd_, red_plx, red_plx_err, 2, 4)
lines(pd_, orbit_plx, fit_plx)
txt(pd_, cd, 133, 979, "\u27e8\u03d6\u27e9 = 0.265 \u00b1 0.008 mas")
txt(ld, ident, 4, 941.7, "d", size=26, style="bold")
vlabel(ld, [("\u03d6", 26, "italic", 0, 0), (" (mas)", 26, "normal", 0, 0)], 53, 1074)

# ---------------------------------------------------------------- panel e  (page y 1221..1555)
pe = make_fig(1022 - WLE, 334, FL - WLE, 31, 44, -100, 300, v_ticks, v_tick_labels, True)
ce = make_conv(1252, 259, -100, 300)
le = blank_fig(WLE, 334, 0, 1221)
pe.scatter(blue_l, blue_v, size=4, fill_color=BLUE, line_color=None)
lines(pe, orbit_v, fit_v)
pe.scatter(rvs_l, rvs_v, size=17, fill_color=ORANGE, line_color=None)
pe.scatter(cfht_l, cfht_v, size=11, fill_color=GREEN, line_color=None)
pe.scatter(omega_l, omega_v, marker="star", size=20, fill_color="black", line_color="black")
x_, y_ = ce(158.3, 1281.7)
pe.scatter([x_], [y_], size=17, fill_color=ORANGE, line_color=None)
x_, y_ = ce(158.7, 1314)
pe.scatter([x_], [y_], size=11, fill_color=GREEN, line_color=None)
txt(pe, ce, 180, 1291, "Gaia RVS")
txt(pe, ce, 180, 1324, "CFHT/ESPaDOnS")
txt(pe, ce, 779, 1284, "\u03c9 Cen", align="right")
txt(le, ident, 4, 1246, "e", size=26, style="bold")
vlabel(le, [("v", 26, "italic", 0, 0), ("helio", 17, "normal", 7, 1), (" (km s", 26, "normal", 0, 1),
            ("\u22121", 17, "normal", -14, 2), (")", 26, "normal", 0, 1)], 30, 1381.5)

# inset: histogram drawn on extra ranges of panel e
IL, IR, IT, IB = 612.7, 966.0, 1347.7, 1476.7
sx = 400.0 / (IR - IL)
sy = inset_top / (IB - IT)
pe.extra_x_ranges = {"ix": Range1d(-100 - (IL - FL) * sx, 300 + (FL + FW - IR) * sx)}
pe.extra_y_ranges = {"iy": Range1d(0 - (1511 - IB) * sy, inset_top + (IT - 1252) * sy)}
pe.quad(left=[-100], right=[300], bottom=[0], top=[inset_top], x_range_name="ix", y_range_name="iy",
        fill_color="white", line_color=EDGE, line_width=1.3)
h_left = [hist_start + i * hist_bin for i in range(len(hist_counts))]
h_right = [v + hist_bin for v in h_left]
pe.quad(left=h_left, right=h_right, bottom=0, top=hist_counts, x_range_name="ix", y_range_name="iy",
        fill_color="#1f77b4", line_color="#1f77b4", line_width=0.8)
iax = LinearAxis(x_range_name="ix", y_range_name="iy", fixed_location=0,
                 ticker=FixedTicker(ticks=inset_ticks),
                 major_label_overrides=dict(zip(inset_ticks, inset_tick_labels)))
iax.axis_line_color = None
iax.major_tick_in = 0
iax.major_tick_out = 7
iax.major_tick_line_color = EDGE
iax.major_tick_line_width = 1.3
iax.minor_tick_line_color = None
iax.major_label_text_font = FONT
iax.major_label_text_font_size = "18px"
iax.major_label_standoff = 7
pe.add_layout(iax, "below")
txt(pe, ce, 626.7, 1370, "v", size=18, style="italic")
txt(pe, ce, 635.5, 1374, "helio", size=13)
txt(pe, ce, 666, 1370, "distribution of Galactic stars", size=18)

# ---------------------------------------------------------------- x-axis title strip (page y 1555..1586)
ls = blank_fig(1022, 31, 0, 1555)
txt(ls, ident, 538, 1579, "\u2113 (\u00b0)", align="center")

layout = column(row(la, pa, spacing=0), row(lb, pb, spacing=0), row(lc, pc, spacing=0),
                row(ld, pd_, spacing=0), row(le, pe, spacing=0), ls, spacing=0)
open("out.html", "w").write(file_html(layout, INLINE))
